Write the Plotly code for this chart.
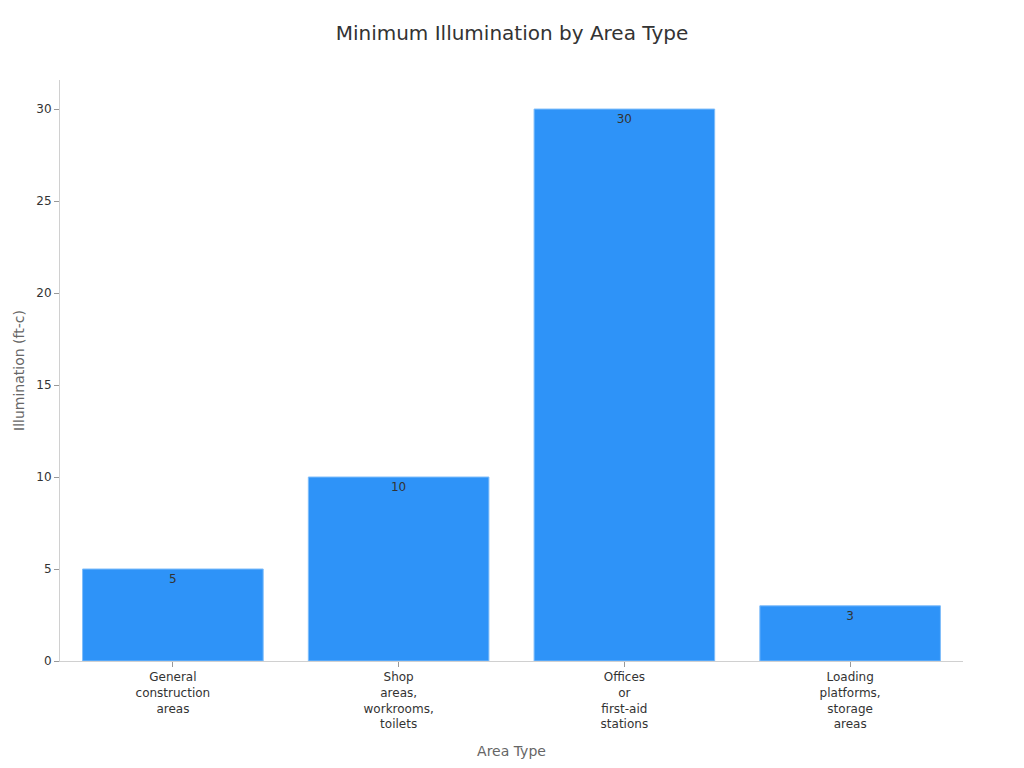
import plotly.graph_objects as go

# data
areas = [
    "General<br>construction<br>areas",
    "Shop<br>areas,<br>workrooms,<br>toilets",
    "Offices<br>or<br>first-aid<br>stations",
    "Loading<br>platforms,<br>storage<br>areas",
]
illumination = [5, 10, 30, 3]

fig = go.Figure(go.Bar(
    x=areas,
    y=illumination,
    text=illumination,
    textposition="inside",
    insidetextanchor="end",
    textfont=dict(color="#333333", size=12),
    marker=dict(color="#2E93F8", line=dict(color="#7FBDFA", width=1)),
))

fig.update_layout(
    title=dict(text="Minimum Illumination by Area Type", x=0.496, xanchor="center",
               y=0.967, yanchor="middle", font=dict(size=20, color="#333333")),
    font=dict(family="DejaVu Sans", size=12, color="#333333"),
    width=1016, height=760,
    margin=dict(l=52, r=61, t=72, b=107),
    plot_bgcolor="white", paper_bgcolor="white",
    bargap=0.2,
    showlegend=False,
    xaxis=dict(
        title=dict(text="Area Type", font=dict(size=14, color="#666666")),
        showline=True, linecolor="#d0d0d0", ticks="outside", tickcolor="#999999",
        ticklen=5, showgrid=False, automargin=False,
    ),
    yaxis=dict(
        title=dict(text="Illumination (ft-c)", font=dict(size=14, color="#666666"),
                   standoff=8),
        showline=True, linecolor="#d0d0d0", ticks="outside", tickcolor="#999999",
        ticklen=5, showgrid=False, zeroline=False, dtick=5, automargin=False,
    ),
)

fig.write_html("out.html")
